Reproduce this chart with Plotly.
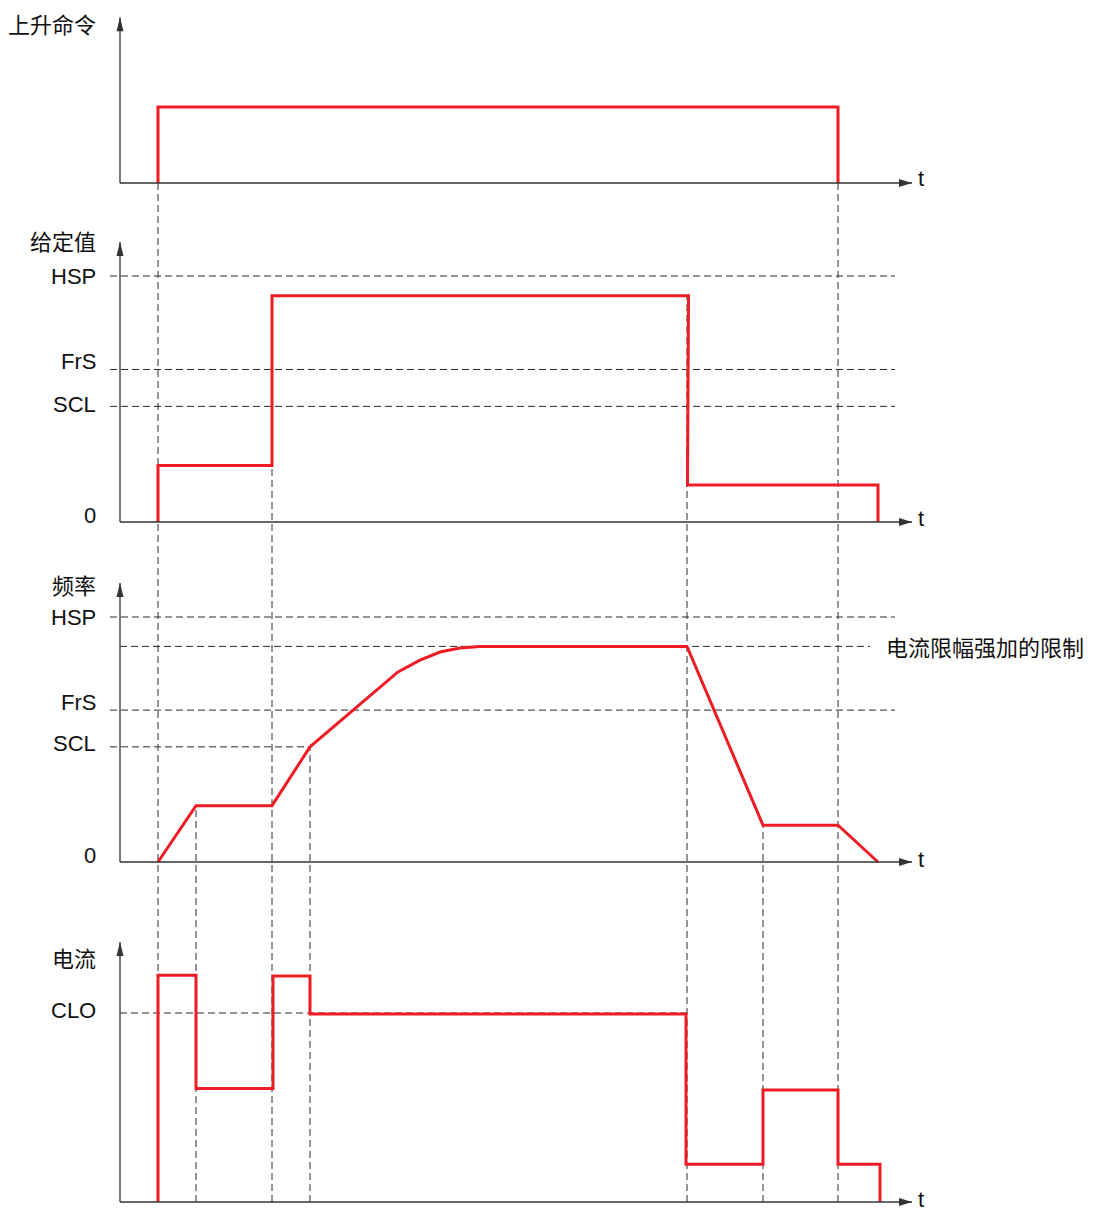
import plotly.graph_objects as go

W, H = 1098, 1213
OFF = 8  # page body margin in the browser
FW, FH = W - OFF, H - OFF

# ---------------- data (time in arbitrary units) ----------------
t_cmd = [3.8, 3.8, 71.8, 71.8]
cmd = [0, 1, 1, 0]

t_ref = [3.8, 3.8, 15.2, 15.2, 56.85, 56.75, 75.8, 75.8]
ref = [0, 23, 23, 92, 92, 15, 15, 0]

t_freq = [3.8, 7.6, 15.2, 19.0, 27.8, 30.0, 32.0, 34.0, 36.0, 56.7, 64.3, 71.8, 75.8]
freq = [0, 23, 23, 47, 77.6, 82.4, 85.7, 87.3, 88, 88, 15, 15, 0]

t_cur = [3.8, 3.8, 7.6, 7.6, 15.3, 15.3, 19.0, 19.0, 56.6, 56.6, 64.3, 64.3, 71.8, 71.8, 76.0, 76.0]
cur = [0, 120, 120, 60, 60, 119.6, 119.6, 99.5, 99.5, 20, 20, 59.3, 59.3, 20, 20, 0]

# reference levels
HSP, FrS, SCL, LIM = 100, 62, 47, 88
CLO = 100

panel_titles = ["上升命令", "给定值", "频率", "电流"]
limit_label = "电流限幅强加的限制"

# ---------------- styling ----------------
RED = "#ee1c25"
AX = "#333333"
DASH = "#2a2a2a"
LAT = "Liberation Sans, Arial, sans-serif"
CJK = "Noto Sans CJK SC, sans-serif"

X0 = -(120 - OFF) / 10.0
X_RANGE = [X0, X0 + FW / 10.0]
T_END = 79.2  # arrow tip of time axis

# panel pixel geometry (screen px): (pixel of 0, pixel of ref, ref value, top px, bottom px)
geo = [
    (183, 107, 1.0, 8, 200),
    (522, 276, 100.0, 205, 540),
    (862, 617, 100.0, 545, 880),
    (1202, 1013, 100.0, 885, 1213),
]

fig = go.Figure()
layout_axes = {}
conv = []
for i, (p0, pr, vr, ptop, pbot) in enumerate(geo):
    p0, pr, ptop, pbot = p0 - OFF, pr - OFF, ptop - OFF, pbot - OFF
    s = (p0 - pr) / vr
    lo = -(pbot - p0) / s
    hi = (p0 - ptop) / s
    dom = [1 - pbot / FH, 1 - ptop / FH]
    name = "yaxis" if i == 0 else f"yaxis{i+1}"
    layout_axes[name] = dict(domain=dom, range=[lo, hi], visible=False,
                             anchor="x", fixedrange=True)
    conv.append((lo, hi, dom))

def paper_y(panel, v):
    lo, hi, dom = conv[panel]
    return dom[0] + (v - lo) / (hi - lo) * (dom[1] - dom[0])

yrefs = ["y", "y2", "y3", "y4"]
series = [(t_cmd, cmd), (t_ref, ref), (t_freq, freq), (t_cur, cur)]
for i, (tx, vy) in enumerate(series):
    fig.add_trace(go.Scatter(x=tx, y=vy, mode="lines", xaxis="x", yaxis=yrefs[i],
                             line=dict(color=RED, width=3), showlegend=False,
                             hoverinfo="skip"))

shapes = []
annos = []

# axis tops (value at arrow tip)
tips = [2.18, 113.8, 113.9, 137.6]
title_shift = [-6, 2, -1, -15]
t_shift = [5, 4, 3, 3]
for i in range(4):
    yr = yrefs[i]
    shapes.append(dict(type="line", xref="x", yref=yr, x0=0, x1=0, y0=0, y1=tips[i],
                       line=dict(color=AX, width=1.3)))
    shapes.append(dict(type="path", xref="x", yref=yr, xsizemode="pixel", ysizemode="pixel",
                       xanchor=0, yanchor=tips[i], path="M0,0 L-3.5,-14 L3.5,-14 Z",
                       fillcolor=AX, line=dict(width=0)))
    shapes.append(dict(type="line", xref="x", yref=yr, x0=0, x1=T_END, y0=0, y1=0,
                       line=dict(color=AX, width=1.3)))
    shapes.append(dict(type="path", xref="x", yref=yr, xsizemode="pixel", ysizemode="pixel",
                       xanchor=T_END, yanchor=0, path="M0,0 L-13,4 L-13,-4 Z",
                       fillcolor=AX, line=dict(width=0)))
    annos.append(dict(x=T_END, y=0, xref="x", yref=yr, text="t", showarrow=False,
                      xanchor="left", xshift=5, yshift=t_shift[i], borderpad=0,
                      font=dict(family=LAT, size=22, color="#111")))
    annos.append(dict(x=-2.3, y=tips[i], xref="x", yref=yr, text=panel_titles[i],
                      showarrow=False, xanchor="right", yshift=title_shift[i], borderpad=0,
                      font=dict(family=CJK, size=22, color="#111")))

# horizontal dashed reference lines: (panel, value, x start, x end)
hlines = [
    (1, HSP, -1.0, 77.5), (1, FrS, -1.0, 77.5), (1, SCL, -1.0, 77.5),
    (2, HSP, -1.0, 77.5), (2, LIM, 0.0, 75.0), (2, FrS, -1.0, 77.5), (2, SCL, -1.0, 19.0),
    (3, CLO, 0.0, 56.7),
]
for p, v, xa, xb in hlines:
    shapes.append(dict(type="line", xref="x", yref=yrefs[p], x0=xa, x1=xb, y0=v, y1=v,
                       line=dict(color=DASH, width=1, dash="7px,4px"), layer="below"))

# tick labels: (panel, value, text, yshift)
labels = [
    (1, HSP, "HSP", 0), (1, FrS, "FrS", 8), (1, SCL, "SCL", 2), (1, 0, "0", 7),
    (2, HSP, "HSP", 0), (2, FrS, "FrS", 8), (2, SCL, "SCL", 3), (2, 0, "0", 7),
    (3, CLO, "CLO", 3),
]
for p, v, txt, ys in labels:
    annos.append(dict(x=-2.2, y=v, xref="x", yref=yrefs[p], text=txt, showarrow=False,
                      xanchor="right", yshift=ys,
                      font=dict(family=LAT, size=22, color="#111")))

annos.append(dict(x=76.4, y=LIM, xref="x", yref="y3", text=limit_label, showarrow=False,
                  xanchor="left", font=dict(family=CJK, size=22, color="#111")))

# vertical dashed event lines: (time, top panel, top value)
vlines = [
    (3.8, 0, 0), (71.8, 0, 0),
    (15.2, 1, 92), (56.7, 1, 92),
    (7.6, 2, 23), (19.0, 2, SCL), (64.3, 2, 15),
]
ybottom = paper_y(3, 0)
for tv, p, v in vlines:
    shapes.append(dict(type="line", xref="x", yref="paper", x0=tv, x1=tv,
                       y0=ybottom, y1=paper_y(p, v),
                       line=dict(color=DASH, width=1, dash="7px,4px"), layer="below"))

fig.update_layout(
    width=FW, height=FH, margin=dict(l=0, r=0, t=0, b=0),
    paper_bgcolor="white", plot_bgcolor="white",
    xaxis=dict(domain=[0, 1], range=X_RANGE, visible=False, fixedrange=True),
    shapes=shapes, annotations=annos, showlegend=False,
    **layout_axes,
)

fig.write_html("out.html")
